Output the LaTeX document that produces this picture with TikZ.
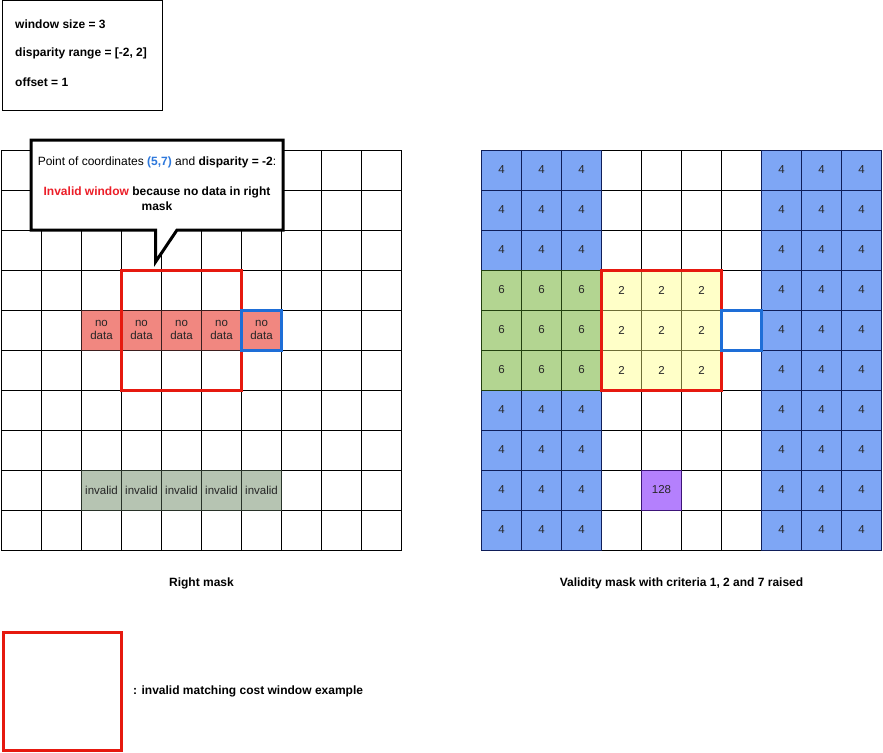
\documentclass[tikz,border=0pt]{standalone}
\usepackage{fontspec}
\setmainfont{Liberation Sans}
\definecolor{nodatafill}{RGB}{241,135,128}
\definecolor{nodataline}{RGB}{60,30,30}
\definecolor{invfill}{RGB}{182,196,178}
\definecolor{invline}{RGB}{40,50,40}
\definecolor{bluefill}{RGB}{126,166,245}
\definecolor{blueline}{RGB}{15,30,90}
\definecolor{greenfill}{RGB}{179,213,145}
\definecolor{greenline}{RGB}{35,65,15}
\definecolor{yellowfill}{RGB}{255,255,200}
\definecolor{yellowline}{RGB}{110,110,55}
\definecolor{purplefill}{RGB}{180,128,253}
\definecolor{purpleline}{RGB}{60,20,120}
\definecolor{winred}{RGB}{230,25,15}
\definecolor{selblue}{RGB}{30,110,215}
\definecolor{txtblue}{RGB}{45,120,220}
\definecolor{txtred}{RGB}{236,30,40}
\begin{document}
\begin{tikzpicture}[x=1pt,y=-1pt,font=\fontsize{12}{14}\selectfont]
\tikzset{
  cellbox/.style={draw=black,line width=1pt,minimum width=40pt,minimum height=40pt,
    inner sep=0pt,outer sep=0pt,align=center,text=black!85,
    font=\fontsize{11.5}{13.5}\selectfont},
  nodatacell/.style={cellbox,fill=nodatafill,draw=nodataline},
  invcell/.style={cellbox,fill=invfill,draw=invline},
  bluecell/.style={cellbox,fill=bluefill,draw=blueline},
  greencellb/.style={cellbox,fill=greenfill,draw=greenline},
  yellowcell/.style={cellbox,fill=yellowfill,draw=yellowline},
  purplecell/.style={cellbox,fill=purplefill,draw=purpleline},
  redwin/.style={draw=winred,line width=3pt},
  bluesel/.style={draw=selblue,line width=3pt},
  boldlbl/.style={font=\fontsize{12}{14}\selectfont\bfseries,inner sep=0pt}
}
\useasboundingbox (0,0) rectangle (883,752);
\fill[white] (0,0) rectangle (883,752);

% parameter box
\node[draw=black,line width=1pt,minimum width=160pt,minimum height=109pt,anchor=north west,inner sep=0pt] (params) at (1.5,0.5) {};
\node[boldlbl,anchor=west] (p1) at (15,24) {window size = 3};
\node[boldlbl,anchor=west] (p2) at (15,53) {disparity range = [-2, 2]};
\node[boldlbl,anchor=west] (p3) at (15,82) {offset = 1};

% left grid
\foreach \r in {0,...,9}{
  \foreach \c in {0,...,9}{
    \node[cellbox] (L-\r-\c) at ({21.5+40*\c},{170+40*\r}) {};
  }
}
\foreach \c in {2,...,6}{
  \node[nodatacell] (N-\c) at ({21.5+40*\c},{170+40*4}) {no\\data};
  \node[invcell] (I-\c) at ({21.5+40*\c},{170+40*8}) {invalid};
}
\draw[redwin] (L-3-3.north west) rectangle (L-5-5.south east);
\draw[bluesel] (N-6.north west) rectangle (N-6.south east);

% callout
\draw[line width=3pt,fill=white,line join=miter]
  (31,140) -- (283,140) -- (283,230) -- (177,230) -- (155.5,262) -- (155.5,230) -- (31,230) -- cycle;
\node[inner sep=0pt] (ct1) at (157,162) {Point of coordinates \textbf{\color{txtblue}(5,7)} and \textbf{disparity = -2}:};
\node[inner sep=0pt,align=center,font=\fontsize{12}{15}\selectfont\bfseries] (ct2) at (157,198.5) {{\color{txtred}Invalid window} because no data in right\\mask};

% right grid
\foreach \r in {0,...,9}{
  \foreach \c in {0,...,9}{
    \node[cellbox] (R-\r-\c) at ({501.5+40*\c},{170+40*\r}) {};
  }
}
\foreach \r in {0,1,2,6,7,8,9}{
  \foreach \c in {0,1,2}{
    \node[bluecell] (B-\r-\c) at ({501.5+40*\c},{170+40*\r}) {4};
  }
}
\foreach \r in {0,...,9}{
  \foreach \c in {7,8,9}{
    \node[bluecell] (B-\r-\c) at ({501.5+40*\c},{170+40*\r}) {4};
  }
}
\foreach \r in {3,4,5}{
  \foreach \c in {0,1,2}{
    \node[greencellb] (G-\r-\c) at ({501.5+40*\c},{170+40*\r}) {6};
  }
  \foreach \c in {3,4,5}{
    \node[yellowcell] (Y-\r-\c) at ({501.5+40*\c},{170+40*\r}) {2};
  }
}
\node[purplecell] (P-8-4) at ({501.5+40*4},{170+40*8}) {128};
\draw[redwin] (Y-3-3.north west) rectangle (Y-5-5.south east);
\draw[bluesel] (R-4-6.north west) rectangle (R-4-6.south east);

% labels
\node[boldlbl] (lblL) at (201.5,583) {Right mask};
\node[boldlbl] (lblR) at (681.5,583) {Validity mask with criteria 1, 2 and 7 raised};

% legend
\node[redwin,minimum width=118pt,minimum height=118pt,inner sep=0pt,anchor=north west] (legend) at (2,631) {};
\node[boldlbl,anchor=west] (legtxt) at (133,691) {: invalid matching cost window example};
\end{tikzpicture}
\end{document}
